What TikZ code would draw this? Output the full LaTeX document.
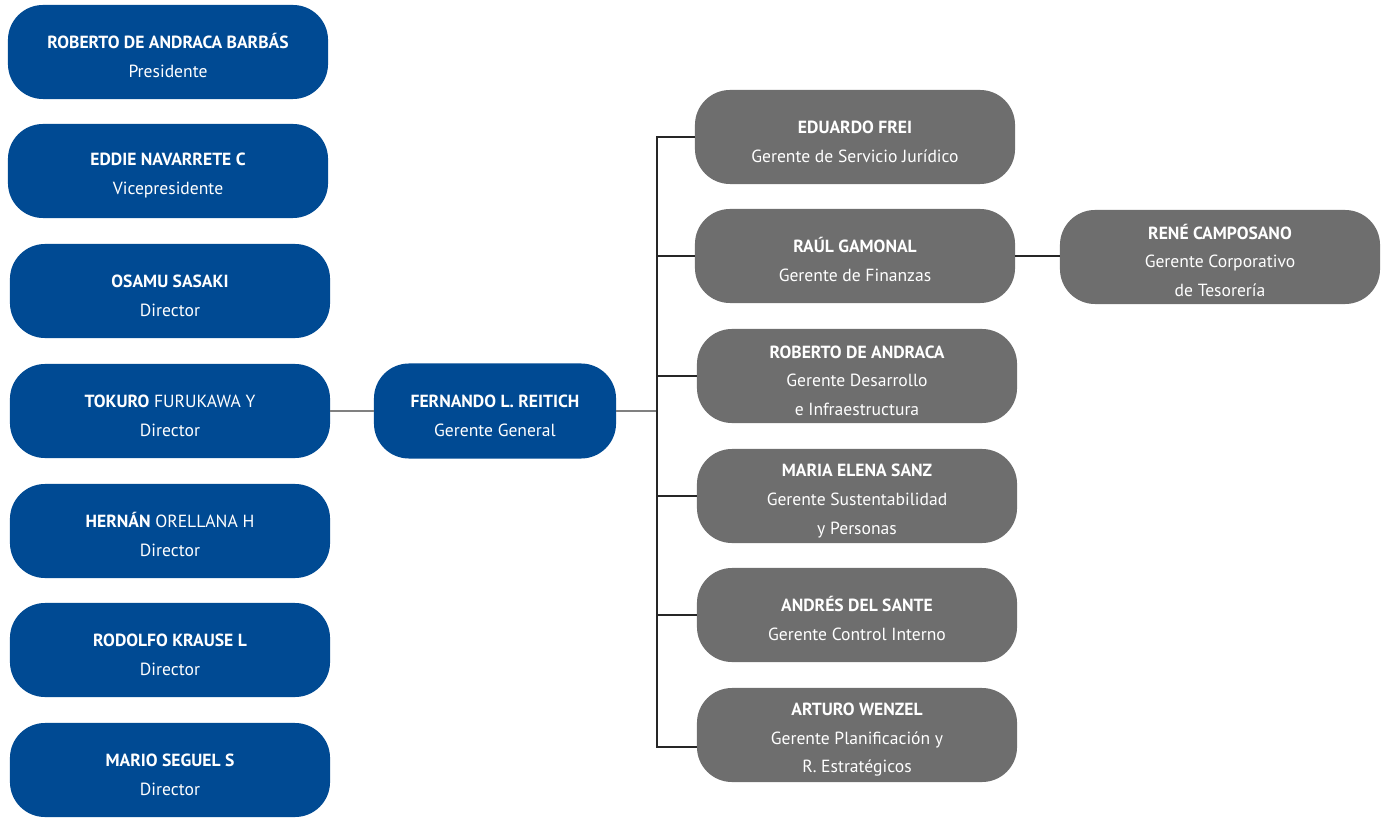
\documentclass[tikz,border=0pt]{standalone}
\usepackage{fontspec}
\setmainfont{PT Sans}
\definecolor{azul}{RGB}{0,74,147}
\definecolor{gris}{RGB}{110,110,110}
\newcommand{\cabeza}[1]{\rule{0pt}{0.55cm}\textbf{#1}}
\tikzset{
	caja/.style={rounded corners=0.875cm, minimum width=8cm, minimum height=2.35cm, inner sep=0pt, align=center, text=white, font=\fontsize{12.5}{20.5}\selectfont},
	directorio/.style={caja, fill=azul},
	gerencia/.style={caja, fill=gris},
	linea/.style={thick, black!85},
	lineagris/.style={thick, black!50}
}
\begin{document}
\begin{tikzpicture}[x=0.025cm, y=-0.025cm]
	\useasboundingbox (0,0) rectangle (1393,819);
	
	% directorio
	\node[directorio] (pres) at (168,52){\cabeza{ROBERTO DE ANDRACA BARBÁS}\\Presidente};
	\node[directorio] (vice) at (168,171){\cabeza{EDDIE NAVARRETE C}\\Vicepresidente};
	\node[directorio] (sasaki) at (170,291){\cabeza{OSAMU SASAKI}\\Director};
	\node[directorio] (furukawa) at (170,411){\cabeza{TOKURO} FURUKAWA Y\\Director};
	\node[directorio] (orellana) at (170,531){\cabeza{HERNÁN} ORELLANA H\\Director};
	\node[directorio] (krause) at (170,650){\cabeza{RODOLFO KRAUSE L}\\Director};
	\node[directorio] (seguel) at (170,770){\cabeza{MARIO SEGUEL S}\\Director};
	
	\node[directorio, minimum width=6.05cm, minimum height=2.375cm] (reitich) at (495,411){\cabeza{FERNANDO L. REITICH}\\Gerente General};
	
	% gerencias
	\node[gerencia] (frei) at (855,137){\cabeza{EDUARDO FREI}\\Gerente de Servicio Jurídico};
	\node[gerencia] (gamonal) at (855,256){\cabeza{RAÚL GAMONAL}\\Gerente de Finanzas};
	\node[gerencia] (andraca) at (857,376){\cabeza{ROBERTO DE ANDRACA}\\Gerente Desarrollo\\e Infraestructura};
	\node[gerencia] (sanz) at (857,496){\cabeza{MARIA ELENA SANZ}\\Gerente Sustentabilidad\\y Personas};
	\node[gerencia] (delsante) at (857,615){\cabeza{ANDRÉS DEL SANTE}\\Gerente Control Interno};
	\node[gerencia] (wenzel) at (857,735){\cabeza{ARTURO WENZEL}\\Gerente Planificación y\\R. Estratégicos};
	\node[gerencia] (camposano) at (1220,257){\cabeza{RENÉ CAMPOSANO}\\Gerente Corporativo\\de Tesorería};
	
	\coordinate (bus) at (657,411);
	
	\draw[lineagris] (furukawa.east) -- (reitich.west);
	\draw[lineagris] (reitich.east) -- (bus);
	\draw[linea] (frei.west) -| (bus) |- ([yshift=-0.3cm]wenzel.west);
	\foreach \g in {gamonal,andraca,sanz,delsante}
		\draw[linea] (bus |- \g.west) -- (\g.west);
	\draw[linea] (gamonal.east) -- (gamonal.east -| camposano.west);
\end{tikzpicture}
\end{document}
